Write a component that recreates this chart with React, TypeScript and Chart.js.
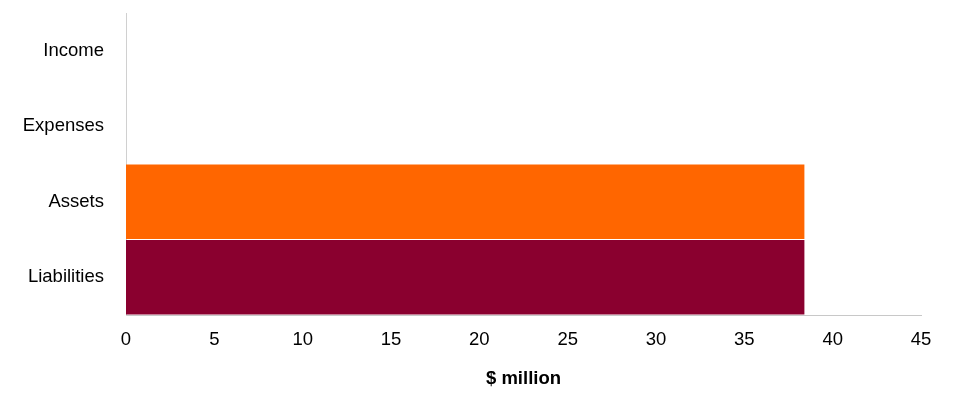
import React, { useEffect, useRef } from 'react';
import { Chart, registerables } from 'chart.js';

Chart.register(...registerables);

const categories = ['Income', 'Expenses', 'Assets', 'Liabilities'];
const values = [0, 0, 38.4, 38.4];
const barColors = ['#FF6600', '#FF6600', '#FF6600', '#8A002F'];
const xTicks = [0, 5, 10, 15, 20, 25, 30, 35, 40, 45];

const FONT = 'Liberation Sans, Arial, sans-serif';

const App: React.FC = () => {
  const canvasRef = useRef<HTMLCanvasElement>(null);
  const chartRef = useRef<Chart | null>(null);

  useEffect(() => {
    document.body.style.margin = '0';
    if (!canvasRef.current) return;
    if (chartRef.current) chartRef.current.destroy();

    chartRef.current = new Chart(canvasRef.current, {
      type: 'bar',
      data: {
        labels: categories,
        datasets: [{
          data: values,
          backgroundColor: barColors,
          barPercentage: 0.985,
          categoryPercentage: 1,
          borderWidth: 0
        }]
      },
      options: {
        indexAxis: 'y',
        animation: false,
        responsive: true,
        maintainAspectRatio: false,
        layout: { padding: { top: 13, right: 34, left: 0, bottom: 0 } },
        plugins: {
          legend: { display: false },
          tooltip: { enabled: false }
        },
        scales: {
          x: {
            min: 0,
            max: 45,
            afterBuildTicks: (axis: any) => {
              axis.ticks = xTicks.map((v) => ({ value: v }));
            },
            afterFit: (axis: any) => {
              axis.height = 85;
              axis.paddingLeft = 0;
              axis.paddingRight = 0;
            },
            grid: { display: false, drawTicks: false },
            border: { display: true, color: '#C8C8C8', width: 1 },
            ticks: {
              color: '#000000',
              padding: 14,
              font: { family: FONT, size: 18.5 }
            },
            title: {
              display: true,
              text: '$ million',
              color: '#000000',
              padding: { top: 10, bottom: 10 },
              font: { family: FONT, size: 18.5, weight: 'bold' }
            }
          },
          y: {
            afterFit: (axis: any) => {
              axis.width = 126;
              axis.paddingTop = 0;
              axis.paddingBottom = 0;
            },
            grid: { display: false, drawTicks: false },
            border: { display: true, color: '#D0D0D0', width: 1 },
            ticks: {
              color: '#000000',
              padding: 22,
              font: { family: FONT, size: 18.5 }
            }
          }
        }
      }
    });

    return () => {
      if (chartRef.current) {
        chartRef.current.destroy();
        chartRef.current = null;
      }
    };
  }, []);

  return (
    <div style={{ width: 955, height: 400, position: 'relative', background: '#ffffff' }}>
      <canvas ref={canvasRef}></canvas>
    </div>
  );
};

export default App;
